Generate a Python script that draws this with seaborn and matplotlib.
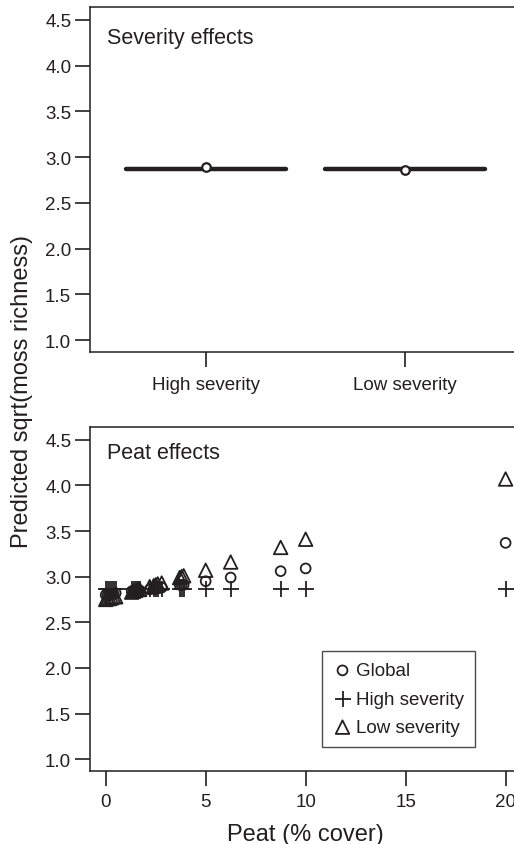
import pandas as pd
import matplotlib
matplotlib.use("Agg")
import matplotlib.pyplot as plt
import seaborn as sns

# severity panel
sev_levels = ["High severity", "Low severity"]
sev_pred = [2.89, 2.86]
sev_line = [2.87, 2.875]

# peat panel
peat = [0, 0.1, 0.2, 0.3, 0.4, 0.5, 1.3, 1.4, 1.5, 1.6, 1.7, 2.2, 2.4, 2.5,
        2.6, 2.8, 3.7, 3.8, 3.9, 5, 6.25, 8.75, 10, 20]
global_pred = [2.80, 2.80, 2.81, 2.81, 2.81, 2.82, 2.84, 2.84, 2.84, 2.85, 2.85, 2.86,
               2.87, 2.87, 2.87, 2.88, 2.91, 2.91, 2.91, 2.95, 2.99, 3.06, 3.09, 3.37]
high_pred = [2.87, 2.87, 2.87, 2.87, 2.87, 2.87, 2.87, 2.87, 2.87, 2.87, 2.87, 2.87,
             2.87, 2.87, 2.87, 2.87, 2.87, 2.87, 2.87, 2.87, 2.87, 2.87, 2.87, 2.87]
low_pred = [2.75, 2.76, 2.76, 2.77, 2.78, 2.78, 2.83, 2.84, 2.85, 2.86, 2.86, 2.89,
            2.90, 2.91, 2.92, 2.93, 2.99, 3.00, 3.01, 3.07, 3.16, 3.32, 3.41, 4.07]

yticks = [1.0, 1.5, 2.0, 2.5, 3.0, 3.5, 4.0, 4.5]
peat_ticks = [0, 5, 10, 15, 20]

ink = "#231f20"

sns.set_style("ticks")
plt.rcParams["font.family"] = ["Liberation Sans", "DejaVu Sans"]
plt.rcParams["axes.edgecolor"] = ink
plt.rcParams["xtick.color"] = ink
plt.rcParams["ytick.color"] = ink
plt.rcParams["text.color"] = ink
plt.rcParams["axes.labelcolor"] = ink

fig = plt.figure(figsize=(5.14, 8.45), dpi=100)
W, H = 514, 845


def px_axes(left, top, right, bottom):
    return fig.add_axes([left / W, (H - bottom) / H, (right - left) / W, (bottom - top) / H])


def style_axes(ax):
    for sp in ax.spines.values():
        sp.set_linewidth(1.1)
        sp.set_visible(True)
    ax.tick_params(direction="out", length=10.5, width=1.2, labelsize=13.5, pad=3)
    ax.set_yticks(yticks)
    ax.set_yticklabels([f"{t:.1f}" for t in yticks])
    ax.set_ylim(0.87, 4.64)


# top: severity effects
ax1 = px_axes(90, 8, 521, 353)
sev_df = pd.DataFrame({"severity": sev_levels, "pred": sev_pred, "line": sev_line})
ax1.hlines(sev_df["line"], [i - 0.4 for i in range(len(sev_levels))],
           [i + 0.4 for i in range(len(sev_levels))], color=ink, linewidth=3.2, capstyle="round")
sns.scatterplot(data=sev_df, x="severity", y="pred", ax=ax1, marker="o", s=38,
                facecolor="white", edgecolor=ink, linewidth=1.6, zorder=3)
ax1.set_xlim(-0.58, 1.58)
style_axes(ax1)
ax1.tick_params(axis="x", pad=6.5)
ax1.set_xlabel("")
ax1.set_ylabel("")
ax1.text(0.039, 0.913, "Severity effects", transform=ax1.transAxes, fontsize=15.5,
         va="center", ha="left")

# bottom: peat effects
ax2 = px_axes(90, 428, 521, 772)
sns.scatterplot(x=peat, y=global_pred, ax=ax2, marker="o", s=50, facecolor="none",
                edgecolor=ink, linewidth=1.3, label="Global", zorder=3)
sns.scatterplot(x=peat, y=high_pred, ax=ax2, marker="+", s=130, color=ink,
                linewidth=1.3, label="High severity", zorder=3)
sns.scatterplot(x=peat, y=low_pred, ax=ax2, marker="^", s=95, facecolor="none",
                edgecolor=ink, linewidth=1.3, label="Low severity", zorder=3)
ax2.set_xlim(-0.785, 20.77)
ax2.set_xticks(peat_ticks)
style_axes(ax2)
ax2.tick_params(axis="x", pad=5.5)
ax2.set_xlabel("Peat (% cover)", fontsize=17, labelpad=9)
ax2.set_ylabel("")
ax2.text(0.039, 0.927, "Peat effects", transform=ax2.transAxes, fontsize=15.5,
         va="center", ha="left")
leg = ax2.legend(loc="upper left", bbox_to_anchor=(0.538, 0.349), fontsize=13.5,
                 frameon=True, fancybox=False, borderpad=0.6, handletextpad=0.2,
                 handlelength=1.0, labelspacing=0.6, borderaxespad=0)
leg.get_frame().set_edgecolor(ink)
leg.get_frame().set_linewidth(1.0)

fig.text(22 / W, 1 - 392 / H, "Predicted sqrt(moss richness)", rotation=90,
         fontsize=17, ha="center", va="center")

fig.savefig("out.png", dpi=100)
